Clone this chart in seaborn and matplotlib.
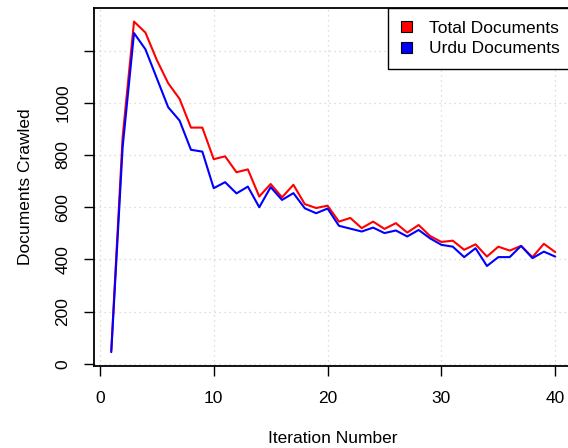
import pandas as pd
import numpy as np
import matplotlib
matplotlib.use('Agg')
import matplotlib.pyplot as plt
import seaborn as sns
from matplotlib.patches import Patch

# crawl results per iteration
iterations = list(range(1, 41))
total_docs = [52, 870, 1311, 1269, 1164, 1075, 1015, 905, 905, 784,
              795, 734, 745, 641, 689, 638, 686, 612, 597, 606,
              545, 559, 520, 545, 517, 539, 503, 532, 490, 467,
              472, 437, 458, 411, 449, 434, 452, 409, 460, 428]
urdu_docs = [45, 830, 1267, 1205, 1094, 983, 932, 820, 813, 673,
             696, 653, 679, 600, 677, 628, 654, 596, 577, 595,
             529, 518, 507, 522, 501, 511, 488, 513, 481, 456,
             449, 409, 443, 375, 409, 409, 452, 405, 430, 411]
series_names = ['Total Documents', 'Urdu Documents']
series_colors = ['#ff0000', '#0000ff']

df = pd.DataFrame({'Iteration': iterations * 2,
                   'Documents': total_docs + urdu_docs,
                   'Series': [series_names[0]] * 40 + [series_names[1]] * 40})

sns.set_style('white')
plt.rcParams['font.family'] = ['Liberation Sans', 'DejaVu Sans']
plt.rcParams['font.size'] = 12.5
for k in ['text.color', 'axes.labelcolor', 'xtick.color', 'ytick.color']:
    plt.rcParams[k] = 'black'

fig = plt.figure(figsize=(5.68, 4.48), dpi=100)
ax = fig.add_axes([93.5 / 568, (448 - 366) / 448, (573 - 93.5) / 568, (366 - 8) / 448])

sns.lineplot(data=df, x='Iteration', y='Documents', hue='Series',
             palette=dict(zip(series_names, series_colors)),
             linewidth=1.5, ax=ax, legend=False)

ax.set_xlim(-0.56, 41.56)
ax.set_ylim(-8, 1363)
ax.set_xticks([0, 10, 20, 30, 40])
ax.set_yticks([0, 200, 400, 600, 800, 1000, 1200])
ax.set_yticklabels(['0', '200', '400', '600', '800', '1000', ''])
plt.setp(ax.get_yticklabels(), rotation=90, va='center')

ax.grid(True, color='#d3d3d3', linestyle=(0, (1, 3)), linewidth=0.9)
ax.set_axisbelow(True)
for s in ax.spines.values():
    s.set_color('black')
    s.set_linewidth(1.3)

ax.tick_params(axis='both', direction='out', length=7.2, width=1.0,
               color='black', labelcolor='black', labelsize=12.5, left=True, bottom=True)
ax.tick_params(axis='x', pad=11)
ax.tick_params(axis='y', pad=9.5)

ax.set_xlabel('Iteration Number', fontsize=12.5, labelpad=18)
ax.set_ylabel('Documents Crawled', fontsize=12.5, labelpad=16)

handles = [Patch(facecolor=c, edgecolor='black', linewidth=0.8) for c in series_colors]
leg = ax.legend(handles, series_names, loc='upper right', bbox_to_anchor=(1, 1),
                borderaxespad=0, fancybox=False, framealpha=1, edgecolor='black',
                fontsize=12.5, handlelength=0.6, handleheight=0.6,
                handletextpad=1.0, labelspacing=0.3, borderpad=0.75)
leg.get_frame().set_linewidth(1.0)

fig.savefig('out.png', dpi=100)
